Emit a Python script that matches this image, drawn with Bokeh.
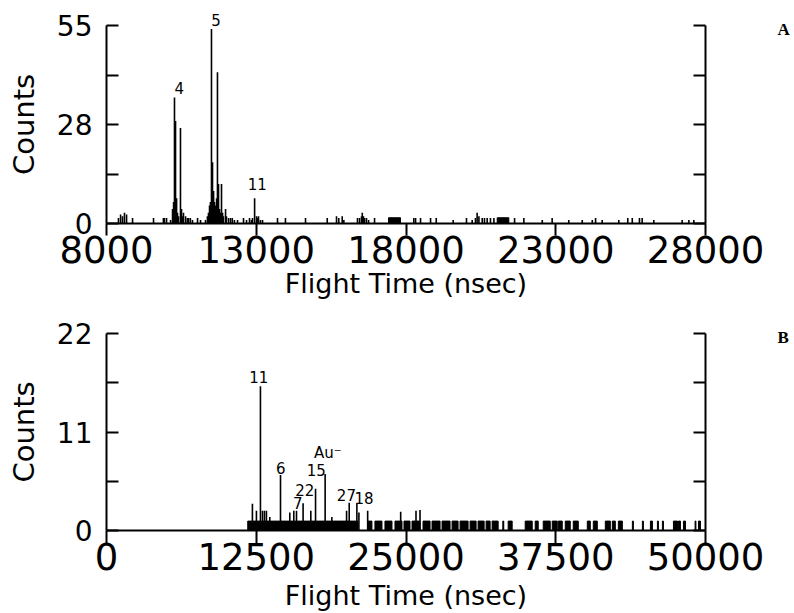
from bokeh.plotting import figure
from bokeh.models import Range1d, LinearAxis, FixedTicker, Label
from bokeh.layouts import column
from bokeh.embed import file_html
from bokeh.resources import INLINE

# ---------------- Panel A data ----------------
a_x_range = (8000, 28000)
a_y_range = (0, 55)
a_x_ticks = [8000, 13000, 18000, 23000, 28000]
a_y_ticks = [0, 13.75, 27.5, 41.25, 55]
a_y_tick_labels = ["0", "", "28", "", "55"]

a_times = [8400, 8470, 8535, 8600, 8670, 8870, 9570, 9900, 9935, 10005, 10140,
           10205, 10240, 10270, 10305, 10340, 10370, 10405, 10470, 10505, 10540,
           10570, 10640, 10700, 10740, 10800, 10870, 11040, 11140,
           11305, 11370, 11405, 11440, 11470, 11505, 11540, 11575, 11605, 11640,
           11675, 11705, 11740, 11775, 11805, 11840, 11875, 11905, 11975, 12005,
           12075, 12140, 12200, 12270, 12375, 12575, 12675, 12775,
           12840, 12875, 12945, 13010, 13045, 13075, 13140, 13210,
           13710, 13975, 14645, 15370, 15680, 15755, 15870, 15925,
           16380, 16450, 16515, 16540, 16580, 16615, 16680, 16750, 16950,
           18260, 18320, 18485, 18820, 19010, 19575, 20020, 20210, 20320, 20375,
           20435, 20545, 20620, 20710, 20820, 20935,
           21625, 21935, 22550, 22880, 23435, 23885, 24220, 24330, 24550, 25105,
           25405, 25555, 25795, 25885, 26275, 27220, 27445, 27610]
a_counts = [1.5, 2.5, 2, 3, 2.5, 1.5, 1.5, 1.5, 1.5, 1.5, 1,
            4, 6, 35, 28.5, 7, 3, 2, 26.5, 4, 2,
            3, 2, 1.5, 1.5, 1.5, 1, 1.5, 1,
            1, 2, 3, 5, 6, 54, 17, 9, 6, 5,
            7, 42, 11, 4, 3, 11, 3, 2, 4, 2,
            1.5, 1.5, 1.5, 1, 1, 1.5, 1, 1.5,
            1, 1.5, 7, 2, 1.5, 2, 1, 1,
            1.5, 1.5, 1.5, 1.5, 2, 1.5, 2, 1,
            1.5, 1.5, 2, 3, 2, 1.5, 1.5, 1, 1.5,
            1.5, 1.5, 1.5, 1.5, 1.5, 1, 1.5, 1, 1.5, 3,
            2, 1.5, 1.5, 1.5, 1.5, 1.5,
            1.5, 1.5, 1, 1.5, 1, 1, 1, 1.5, 1, 1,
            1.5, 1.5, 1.5, 1.5, 1, 1, 1, 1]
a_run_start = [17416, 21045]
a_run_end = [17817, 21433]
a_run_counts = [1.6, 1.6]

# peak annotations (peak "5" sits above the frame and is drawn as a top-axis label)
a_ann_text = ["4", "11"]
a_ann_time = [10427, 13032]
a_ann_count = [36.1, 9.2]
a_top_ann_text = "5"
a_top_ann_time = 11656
a_panel_tag = "A"
a_panel_tag_count = 53.9

# ---------------- Panel B data ----------------
b_x_range = (0, 50000)
b_y_range = (0, 22)
b_x_ticks = [0, 12500, 25000, 37500, 50000]
b_y_ticks = [0, 5.5, 11, 16.5, 22]
b_y_tick_labels = ["0", "", "11", "", "22"]

b_times = [12180, 12515, 12850, 13020, 13185, 13350, 13630, 14525, 15300, 15635,
           15860, 16410, 17055, 17450, 18250, 18810, 20040, 20260, 20900, 21070,
           21800, 24555, 25835, 26170]
b_counts = [3, 2.2, 16.1, 2.2, 2.2, 2.2, 1.5, 6.2, 2, 2.2,
            2.2, 3.05, 2.2, 4.65, 6.3, 1.5, 2.2, 3.1, 3.05, 2,
            2.2, 2.1, 2.2, 2.3]
b_run_start = [11790, 21822, 22407, 23244, 24080, 24832, 25501, 26421, 27173, 28009,
               28845, 29514, 30350, 31019, 31688, 32190, 33080, 33528, 34950, 35785,
               36454, 37207, 37708, 38293, 38962, 40133, 40635, 41638, 42223, 42725,
               43896, 44732, 45400, 45986, 46404, 47324, 47742, 48160, 49130, 49414]
b_run_end = [20990, 22156, 22993, 23829, 24665, 25334, 26170, 27006, 27842, 28678,
             29347, 30183, 30852, 31521, 32023, 32692, 33160, 33862, 35535, 36036,
             37040, 37625, 38043, 38711, 39380, 40384, 40969, 42056, 42474, 43059,
             43980, 44816, 45568, 46069, 46487, 47658, 47909, 48327, 49200, 49581]
b_run_counts = [1.05] * len(b_run_start)

b_ann_text = ["11", "6", "7", "22", "15", "Au\u207b", "27", "18"]
b_ann_time = [12709, 14548, 15970, 16555, 17517, 18478, 20025, 21488]
b_ann_count = [16.45, 6.29, 2.35, 3.8, 6.14, 7.6, 3.35, 3.0]
b_panel_tag = "B"
b_panel_tag_count = 21.5

FONT = "DejaVu Sans"


def make_panel(xr, yr, xticks, yticks, ylabels, frame_h, top_border,
               x_tick_out, x_label_standoff, x_axis_label_standoff):
    p = figure(frame_width=599, frame_height=frame_h,
               x_range=Range1d(*xr), y_range=Range1d(*yr),
               output_backend="svg", toolbar_location=None,
               min_border_left=106, min_border_right=85,
               min_border_top=top_border, min_border_bottom=0)
    p.outline_line_color = None
    p.grid.visible = False
    p.background_fill_color = "white"
    p.border_fill_color = "white"

    xa = p.xaxis[0]
    xa.ticker = FixedTicker(ticks=xticks, minor_ticks=[])
    xa.major_tick_in = 0
    xa.major_tick_out = x_tick_out
    xa.axis_line_width = 2
    xa.major_tick_line_width = 2
    xa.major_label_text_font = FONT
    xa.major_label_text_font_size = "37px"
    xa.major_label_text_color = "black"
    xa.major_label_standoff = x_label_standoff
    xa.axis_label = "Flight Time (nsec)"
    xa.axis_label_text_font = FONT
    xa.axis_label_text_font_size = "27px"
    xa.axis_label_text_font_style = "normal"
    xa.axis_label_text_color = "black"
    xa.axis_label_standoff = x_axis_label_standoff

    ya = p.yaxis[0]
    ya.ticker = FixedTicker(ticks=yticks, minor_ticks=[])
    ya.major_label_overrides = {t: l for t, l in zip(yticks, ylabels)}
    ya.major_tick_in = 12
    ya.major_tick_out = 0
    ya.axis_line_width = 2
    ya.major_tick_line_width = 2
    ya.major_label_text_font = FONT
    ya.major_label_text_font_size = "28px"
    ya.major_label_text_color = "black"
    ya.major_label_standoff = 14
    ya.axis_label = "Counts"
    ya.axis_label_text_font = FONT
    ya.axis_label_text_font_size = "29px"
    ya.axis_label_text_font_style = "normal"
    ya.axis_label_text_color = "black"
    ya.axis_label_standoff = 13

    ra = LinearAxis(ticker=FixedTicker(ticks=yticks, minor_ticks=[]),
                    major_label_overrides={t: "" for t in yticks},
                    major_tick_in=12, major_tick_out=0,
                    axis_line_width=2, major_tick_line_width=2,
                    major_label_standoff=0)
    p.add_layout(ra, "right")
    return p


def add_tag(p, count, text):
    # panel letter, placed right of the frame as a label-only axis
    tag = LinearAxis(ticker=FixedTicker(ticks=[count], minor_ticks=[]),
                     major_label_overrides={count: text},
                     axis_line_color=None, major_tick_line_color=None,
                     major_tick_in=0, major_tick_out=0,
                     major_label_standoff=72,
                     major_label_text_font="Liberation Serif",
                     major_label_text_font_style="bold",
                     major_label_text_font_size="17px",
                     major_label_text_color="black")
    p.add_layout(tag, "right")


def add_label(p, x, y, text):
    p.add_layout(Label(x=x, y=y, text=text, text_align="center",
                       text_baseline="bottom", text_font=FONT,
                       text_font_size="15px", text_color="black"))


pa = make_panel(a_x_range, a_y_range, a_x_ticks, a_y_ticks, a_y_tick_labels,
                198, 25, 12, 0, 2)
pa.segment(x0=a_times, y0=[0] * len(a_times), x1=a_times, y1=a_counts,
           line_color="black", line_width=1.6)
pa.quad(left=a_run_start, right=a_run_end, bottom=[0] * len(a_run_start),
        top=a_run_counts, fill_color="black", line_color="black")
for t, x, c in zip(a_ann_text, a_ann_time, a_ann_count):
    add_label(pa, x, c, t)
top_ann = LinearAxis(ticker=FixedTicker(ticks=[a_top_ann_time], minor_ticks=[]),
                     major_label_overrides={a_top_ann_time: a_top_ann_text},
                     axis_line_color=None, major_tick_line_color=None,
                     major_tick_in=0, major_tick_out=0,
                     major_label_standoff=0,
                     major_label_text_font=FONT,
                     major_label_text_font_size="15px",
                     major_label_text_color="black")
pa.add_layout(top_ann, "above")
add_tag(pa, a_panel_tag_count, a_panel_tag)

pb = make_panel(b_x_range, b_y_range, b_x_ticks, b_y_ticks, b_y_tick_labels,
                197, 32, 15, -3, 7)
pb.segment(x0=b_times, y0=[0] * len(b_times), x1=b_times, y1=b_counts,
           line_color="black", line_width=1.6)
pb.quad(left=b_run_start, right=b_run_end, bottom=[0] * len(b_run_start),
        top=b_run_counts, fill_color="black", line_color="black")
for t, x, c in zip(b_ann_text, b_ann_time, b_ann_count):
    add_label(pb, x, c, t)
add_tag(pb, b_panel_tag_count, b_panel_tag)

layout = column(pa, pb, spacing=0)
open("out.html", "w").write(file_html(layout, INLINE))
